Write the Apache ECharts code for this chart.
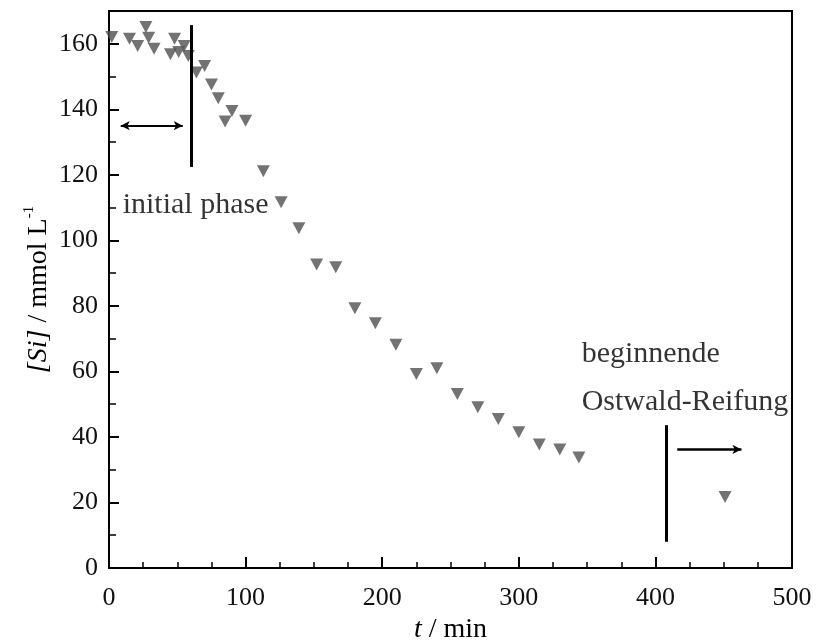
<!DOCTYPE html>
<html>
<head>
<meta charset="utf-8">
<script src="https://cdn.jsdelivr.net/npm/echarts@6/dist/echarts.min.js"></script>
<style>html,body{margin:0;padding:0;background:#fff;}#c{width:816px;height:640px;}</style>
</head>
<body>
<div id="c"></div>
<script>
// Data
var times = [2, 15, 21, 27, 29, 33, 45, 48, 51, 55, 58, 64, 70, 75, 80, 85, 90, 100, 113, 126, 139, 152, 166, 180, 195, 210, 225, 240, 255, 270, 285, 300, 315, 330, 344, 451];
var si = [162.1, 161.5, 159.3, 165.1, 161.8, 158.5, 156.8, 161.5, 157.5, 159.3, 156.3, 151.2, 153.2, 147.6, 143.4, 136.3, 139.5, 136.5, 121.1, 111.6, 103.7, 92.6, 91.8, 79.3, 74.7, 68.1, 59.2, 61.0, 53.1, 49.1, 45.5, 41.4, 37.7, 36.2, 33.7, 21.7];
var xTicks = [0, 100, 200, 300, 400, 500];
var yTicks = [0, 20, 40, 60, 80, 100, 120, 140, 160];

// annotation lines (data coordinates)
var phaseLine = [[60, 165.7], [60, 122.4]];
var phaseArrow = [[8.6, 135], [54, 135]];
var ostwaldLine = [[408, 43.6], [408, 8]];
var ostwaldArrow = [[416, 36.2], [463, 36.2]];
var labelTexts = ['initial phase', 'beginnende', 'Ostwald-Reifung'];
var labelPos = [[10, 110.7], [346, 65.3], [346, 50.7]];

var FONT = '"Liberation Serif", "DejaVu Serif", serif';
var chart = echarts.init(document.getElementById('c'), null, {renderer: 'canvas'});
var pts = times.map(function (t, i) { return [t, si[i]]; });

chart.setOption({
  animation: false,
  backgroundColor: '#ffffff',
  textStyle: {fontFamily: FONT},
  grid: {left: 109, right: 24, top: 11, bottom: 72, containLabel: false, outerBoundsMode: 'none',
    show: true, borderColor: '#000', borderWidth: 2, backgroundColor: 'transparent'},
  xAxis: {
    type: 'value', min: 0, max: 500, interval: 100,
    name: '{i|t} / min', nameLocation: 'middle', nameGap: 48,
    nameTextStyle: {fontFamily: FONT, fontSize: 28, color: '#000', rich: {i: {fontStyle: 'italic', fontFamily: FONT, fontSize: 28, color: '#000'}}},
    axisLine: {lineStyle: {color: '#000', width: 2}},
    axisTick: {inside: true, length: 11, lineStyle: {color: '#000', width: 2}},
    minorTick: {show: true, splitNumber: 4, length: 6, lineStyle: {color: '#000', width: 1.5}},
    axisLabel: {fontFamily: FONT, fontSize: 26, color: '#111', margin: 17,
      formatter: function (v) { return xTicks.indexOf(v) >= 0 ? String(v) : ''; }},
    splitLine: {show: false}
  },
  yAxis: {
    type: 'value', min: 0, max: 170, interval: 20,
    name: '{i|[Si]} / mmol L{s|-1}', nameLocation: 'middle', nameGap: 53, nameRotate: 90, nameMoveOverlap: false,
    nameTextStyle: {fontFamily: FONT, fontSize: 28, color: '#000',
      rich: {i: {fontStyle: 'italic', fontFamily: FONT, fontSize: 28, color: '#000', lineHeight: 34},
             s: {fontFamily: FONT, fontSize: 15, color: '#000', verticalAlign: 'top', lineHeight: 34, padding: [0, 0, 14, 0]}}},
    axisLine: {lineStyle: {color: '#000', width: 2}},
    axisTick: {inside: true, length: 10, lineStyle: {color: '#000', width: 2}},
    minorTick: {show: true, splitNumber: 2, length: 7, lineStyle: {color: '#000', width: 1.5}},
    axisLabel: {fontFamily: FONT, fontSize: 26, color: '#111', margin: 11,
      formatter: function (v) { return yTicks.indexOf(v) >= 0 ? String(v) : ''; }},
    splitLine: {show: false}
  },
  series: [
    {
      type: 'scatter', data: pts, symbol: 'triangle', symbolRotate: 180, symbolSize: [13, 12],
      itemStyle: {color: '#505050'}, clip: false, z: 3
    },
    {
      type: 'line', data: [], silent: true,
      markLine: {
        silent: true, animation: false, label: {show: false},
        data: [
          [{coord: phaseLine[0], symbol: 'none', lineStyle: {width: 3, color: '#000', type: 'solid'}}, {coord: phaseLine[1], symbol: 'none'}],
          [{coord: phaseArrow[0], symbol: 'arrow', symbolSize: [7, 9], lineStyle: {width: 2, color: '#000', type: 'solid'}}, {coord: phaseArrow[1], symbol: 'arrow', symbolSize: [7, 9]}],
          [{coord: ostwaldLine[0], symbol: 'none', lineStyle: {width: 3, color: '#000', type: 'solid'}}, {coord: ostwaldLine[1], symbol: 'none'}],
          [{coord: ostwaldArrow[0], symbol: 'none', lineStyle: {width: 2.5, color: '#000', type: 'solid'}}, {coord: ostwaldArrow[1], symbol: 'arrow', symbolSize: [7, 9]}]
        ]
      }
    },
    {
      type: 'scatter', symbolSize: 0, silent: true, clip: false,
      data: labelTexts.map(function (t, i) { return {value: labelPos[i], name: t}; }),
      label: {show: true, position: 'right', distance: 0, formatter: '{b}', fontFamily: FONT, fontSize: 30, color: '#000'}
    }
  ]
});
</script>
</body>
</html>
